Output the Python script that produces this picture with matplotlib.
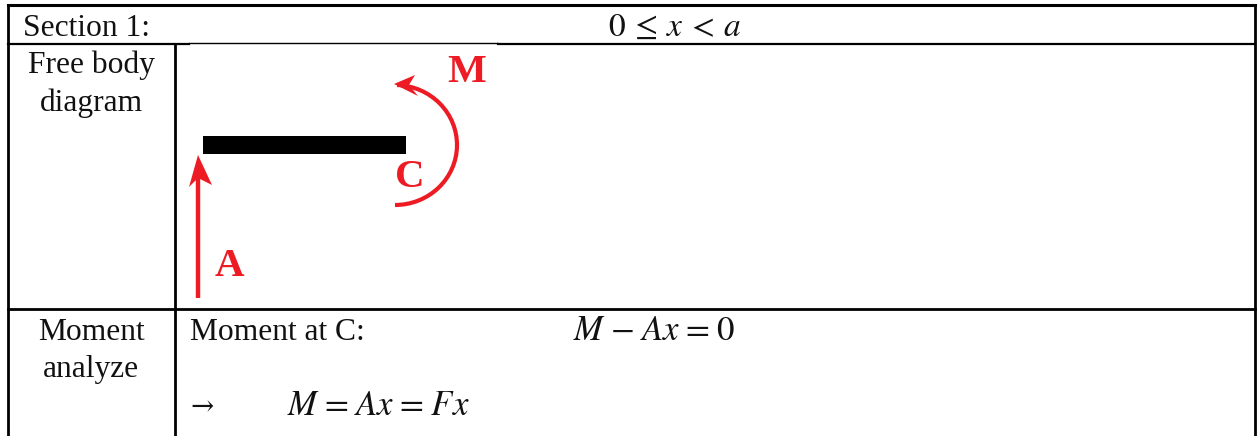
import matplotlib
matplotlib.use('Agg')
import matplotlib.pyplot as plt
import numpy as np
from matplotlib.patches import Arc, Polygon, Rectangle

plt.rcParams['font.family'] = ['Liberation Serif', 'DejaVu Serif']
plt.rcParams['mathtext.fontset'] = 'stix'

RED = '#ed1c24'
fs = 22.7

# table rules in image pixels
h_rules = [(5, 8, 1255, 2.2), (43.7, 8, 189, 1.6), (43.2, 189, 498, 1.0), (43.7, 498, 1255, 1.6), (308.5, 8, 1255, 2.0)]
v_rules = [(8.5, 5, 436), (175, 44, 436), (1255, 5, 436)]

labels = [
    ('Section 1:', 23, 36, 'left'),
    ('Free body', 91, 73, 'center'),
    ('diagram', 91, 111, 'center'),
    ('Moment', 91, 340, 'center'),
    ('analyze', 91, 377, 'center'),
    ('Moment at C:', 190, 340, 'left'),
]
equations = [
    (r'$0\hspace{0.2}\leq\hspace{0.2}x\hspace{0.2}<\hspace{0.2}a$', 608, 36, 24),
    (r'$M\hspace{0.1}-\hspace{0.1}Ax\hspace{0.1}=\hspace{0.1}0$', 573, 340, 25),
    (r'$M\hspace{0.1}=\hspace{0.1}Ax\hspace{0.1}=\hspace{0.1}Fx$', 287, 415, 25),
]
forces = [('M', 447, 82, 29.5), ('C', 395, 187, 29.5), ('A', 215, 276, 29.5)]

fig = plt.figure(figsize=(12.59, 4.36), dpi=100)
ax = fig.add_axes([0, 0, 1, 1])
ax.set_xlim(0, 1259)
ax.set_ylim(436, 0)
ax.axis('off')

for y, x0, x1, lw in h_rules:
    ax.plot([x0, x1], [y, y], color='black', lw=lw, solid_capstyle='projecting')
for x, y0, y1 in v_rules:
    ax.plot([x, x], [y0, y1], color='black', lw=2.0, solid_capstyle='butt')

for txt, x, y, ha in labels:
    ax.text(x, y, txt, fontsize=fs, ha=ha, va='baseline', color='#111111')
for txt, x, y, size in equations:
    ax.text(x, y, txt, fontsize=size, ha='left', va='baseline', color='#111111')
ax.text(190, 415, '\u2192', fontsize=20, ha='left', va='baseline', family='DejaVu Serif', color='#111111')

# beam
ax.add_patch(Rectangle((203, 136), 203, 18, color='black', lw=0))

# reaction arrow A
ax.plot([198, 198], [298, 175], color=RED, lw=3.2, solid_capstyle='butt')
ax.add_patch(Polygon([(198, 155), (212, 185), (198, 178), (189, 187)], color=RED, lw=0))

# moment arc M
ax.add_patch(Arc((395, 145), 124, 120, theta1=-88, theta2=90, color=RED, lw=3.0))
ax.add_patch(Polygon([(394, 84), (415, 75), (409, 85), (418, 96)], color=RED, lw=0))

for txt, x, y, size in forces:
    ax.text(x, y, txt, fontsize=size, fontweight='bold', color=RED, ha='left', va='baseline')

fig.savefig('out.png', dpi=100, facecolor='white')
